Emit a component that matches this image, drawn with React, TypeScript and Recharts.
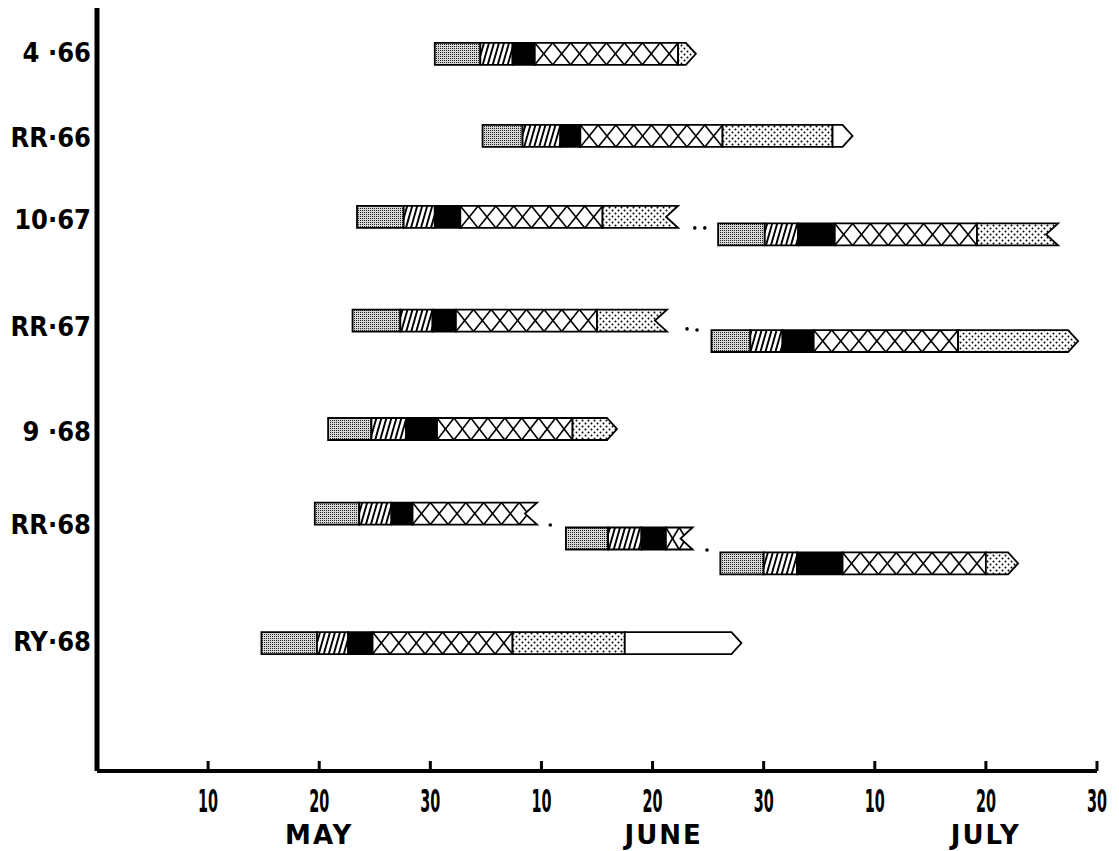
import React from 'react';
import { ComposedChart, XAxis, YAxis, ReferenceArea, Scatter } from 'recharts';

// row labels on the left and where they sit on the lane scale (0 = top, 34 = axis)
const ROW_LABELS = ['4 ·66', 'RR·66', '10·67', 'RR·67', '9 ·68', 'RR·68', 'RY·68'];
const ROW_LABEL_POS = [1.96, 5.75, 9.4, 14.17, 18.85, 23.0, 28.21];

// days are counted from 1 May with every 10-day step drawn the same width
const DAY_TICKS = [10, 20, 30, 40, 50, 60, 70, 80, 90];
const DAY_LABELS = ['10', '20', '30', '10', '20', '30', '10', '20', '30'];
const MONTH_POS = [20, 51, 80];
const MONTH_LABELS = ['MAY', 'JUNE', 'JULY'];

// stages always follow this order along a bar
const PHASES = ['stipple', 'hatch', 'solid', 'cross', 'dots', 'blank'];

// one entry per drawn bar: lane centre, stage boundaries, shape of the right end
const BAR_LANE = [2.04, 5.7, 9.31, 10.09, 13.93, 14.84, 18.76, 22.53, 23.64, 24.75, 28.3];
const BAR_EDGES = [
  [30.4, 34.5, 37.4, 39.4, 52.3, 53.9],
  [34.7, 38.3, 41.7, 43.5, 56.3, 66.2, 68.0],
  [23.4, 27.6, 30.4, 32.7, 45.5, 52.3],
  [55.9, 60.1, 63.1, 66.4, 79.2, 86.5],
  [23.0, 27.3, 30.2, 32.3, 45.0, 51.3],
  [55.3, 58.8, 61.7, 64.5, 77.5, 88.3],
  [20.8, 24.7, 27.8, 30.6, 42.8, 46.8],
  [19.6, 23.6, 26.5, 28.4, 39.6],
  [42.2, 46.0, 49.0, 51.2, 53.6],
  [56.1, 60.0, 63.0, 67.1, 80.0, 82.9],
  [14.8, 19.8, 22.6, 24.8, 37.4, 47.5, 58.0],
];
const BAR_END = ['arrow', 'arrow', 'notch', 'notch', 'notch', 'arrow', 'arrow', 'notch', 'notch', 'arrow', 'arrow'];
const HALF = 0.49;

// little dots that join the split bars
const GAP_X = [53.8, 54.7, 53.1, 54.0, 40.8, 54.9];
const GAP_Y = [9.8, 9.8, 14.3, 14.35, 23.04, 24.15];
const gapData = GAP_X.map((x, i) => ({ x, y: GAP_Y[i] }));
const monthData = MONTH_POS.map((x) => ({ x, y: 34 }));

const FONT = "'DejaVu Sans Condensed', 'DejaVu Sans', sans-serif";
const ARROW = 10;
const NOTCH = 12;
const CELL = 17.5;

function outline(x: number, y: number, w: number, h: number, end?: string) {
  const r = x + w;
  const m = y + h / 2;
  const b = y + h;
  if (end === 'arrow') return `${x},${y} ${r - ARROW},${y} ${r},${m} ${r - ARROW},${b} ${x},${b}`;
  if (end === 'notch') return `${x},${y} ${r},${y} ${r - NOTCH},${m} ${r},${b} ${x},${b}`;
  return `${x},${y} ${r},${y} ${r},${b} ${x},${b}`;
}

const Segment = (props: any) => {
  const { x, y, width, height, phase, end } = props;
  const pts = outline(x, y, width, height, end);
  const fill =
    phase === 'solid' ? '#000' : phase === 'blank' || phase === 'cross' ? '#fff' : `url(#pat-${phase})`;
  const lines: React.ReactNode[] = [];
  if (phase === 'cross') {
    const n = Math.max(1, Math.round(width / CELL));
    const c = width / n;
    for (let i = 0; i < n; i++) {
      const a = x + i * c;
      lines.push(<line key={`a${i}`} x1={a} y1={y} x2={a + c} y2={y + height} stroke="#000" strokeWidth={1.6} />);
      lines.push(<line key={`b${i}`} x1={a + c} y1={y} x2={a} y2={y + height} stroke="#000" strokeWidth={1.6} />);
    }
  }
  const r = x + width;
  return (
    <g>
      <polygon points={pts} fill={fill} />
      {lines}
      {phase === 'cross' && end === 'notch' && (
        <polygon points={`${r},${y - 1} ${r - NOTCH},${y + height / 2} ${r},${y + height + 1}`} fill="#fff" />
      )}
      <polygon points={pts} fill="none" stroke="#000" strokeWidth={1.8} />
    </g>
  );
};

const RowTick = ({ x, y, payload }: any) => (
  <text x={x} y={y} dy={10} textAnchor="end" fontSize={27} fontWeight={700} fontFamily={FONT} fill="#000">
    {ROW_LABELS[ROW_LABEL_POS.indexOf(payload.value)]}
  </text>
);

// the day numbers are a very narrow face, so squeeze them sideways
const DayTick = ({ x, y, payload }: any) => (
  <g>
    <line x1={x} x2={x} y1={y} y2={y - 10} stroke="#000" strokeWidth={3} />
    <text
      transform={`translate(${x},${y + 41}) scale(0.5,1)`}
      textAnchor="middle"
      fontSize={32}
      fontWeight={700}
      fontFamily={FONT}
      fill="#000"
    >
      {DAY_LABELS[DAY_TICKS.indexOf(payload.value)]}
    </text>
  </g>
);

const MonthTick = ({ x, y, payload }: any) => (
  <text
    x={x}
    y={y + 28}
    textAnchor="middle"
    fontSize={26}
    fontWeight={700}
    fontFamily="'DejaVu Sans', sans-serif"
    letterSpacing={2}
    fill="#000"
  >
    {MONTH_LABELS[MONTH_POS.indexOf(payload.value)]}
  </text>
);

export default function App() {
  return (
    <div style={{ position: 'relative' }}>
      <svg width={0} height={0} style={{ position: 'absolute' }}>
        <defs>
          <pattern id="pat-stipple" width={2} height={2} patternUnits="userSpaceOnUse">
            <rect width={2} height={2} fill="#d6d6d6" />
            <rect x={0} y={0} width={1} height={1} fill="#222" />
          </pattern>
          <pattern id="pat-hatch" width={5} height={5} patternUnits="userSpaceOnUse" patternTransform="skewX(-16)">
            <rect width={5} height={5} fill="#fff" />
            <rect x={0} y={0} width={2} height={5} fill="#000" />
          </pattern>
          <pattern id="pat-dots" width={6} height={6} patternUnits="userSpaceOnUse">
            <rect width={6} height={6} fill="#fff" />
            <circle cx={1.5} cy={1.5} r={1} fill="#000" />
            <circle cx={4.5} cy={4.5} r={1} fill="#000" />
          </pattern>
        </defs>
      </svg>
      <ComposedChart width={1111} height={843} margin={{ top: 0, right: 22, bottom: 0, left: 0 }}>
        <XAxis
          xAxisId="day"
          dataKey="x"
          type="number"
          domain={[0, 90]}
          ticks={DAY_TICKS}
          interval={0}
          height={45}
          tickSize={0}
          tickMargin={0}
          tickLine={false}
          axisLine={{ stroke: '#000', strokeWidth: 4 }}
          tick={<DayTick />}
        />
        <XAxis
          xAxisId="month"
          dataKey="x"
          type="number"
          domain={[0, 90]}
          ticks={MONTH_POS}
          interval={0}
          height={35}
          tickSize={0}
          tickMargin={0}
          tickLine={false}
          axisLine={false}
          tick={<MonthTick />}
        />
        <YAxis
          dataKey="y"
          type="number"
          domain={[0, 34]}
          reversed
          ticks={ROW_LABEL_POS}
          interval={0}
          width={89}
          tickSize={0}
          tickMargin={6}
          tickLine={false}
          axisLine={{ stroke: '#000', strokeWidth: 5 }}
          tick={<RowTick />}
        />
        {BAR_EDGES.map((edges, b) =>
          edges.slice(0, -1).map((start, i) => (
            <ReferenceArea
              key={`${b}-${i}`}
              xAxisId="day"
              x1={start}
              x2={edges[i + 1]}
              y1={BAR_LANE[b] - HALF}
              y2={BAR_LANE[b] + HALF}
              shape={(p: any) => (
                <Segment {...p} phase={PHASES[i]} end={i === edges.length - 2 ? BAR_END[b] : undefined} />
              )}
            />
          ))
        )}
        <Scatter
          xAxisId="day"
          data={gapData}
          fill="#000"
          isAnimationActive={false}
          shape={(p: any) => <circle cx={p.cx} cy={p.cy} r={1.8} fill="#000" />}
        />
        <Scatter
          xAxisId="month"
          data={monthData}
          isAnimationActive={false}
          shape={() => <g />}
        />
      </ComposedChart>
    </div>
  );
}
